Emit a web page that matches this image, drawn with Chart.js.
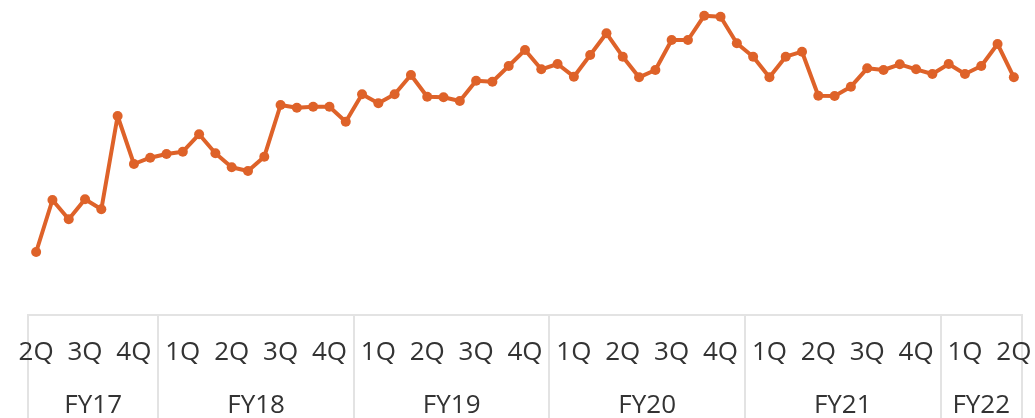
<!DOCTYPE html>
<html>
<head>
<meta charset="utf-8">
<style>
  html, body { margin: 0; padding: 0; background: #ffffff; }
  #wrap { width: 1035px; height: 418px; position: relative; }
</style>
<script src="https://cdn.jsdelivr.net/npm/chart.js@4/dist/chart.umd.min.js"></script>
</head>
<body>
<div id="wrap"><canvas id="c"></canvas></div>
<script>
// ---- data ----
const fiscalYears   = ['FY17', 'FY18', 'FY19', 'FY20', 'FY21', 'FY22'];
const monthsPerYear = [8, 12, 12, 12, 12, 5];
const firstMonth    = [5, 1, 1, 1, 1, 1];
const quarterLabels = ['2Q','3Q','4Q',
                       '1Q','2Q','3Q','4Q',
                       '1Q','2Q','3Q','4Q',
                       '1Q','2Q','3Q','4Q',
                       '1Q','2Q','3Q','4Q',
                       '1Q','2Q'];
const values = [
  63, 115, 95.7, 115.7, 105.7, 199, 151, 157.3,
  161, 163.3, 180.7, 161.7, 147.7, 144, 158.3, 210, 207.3, 208.3, 208.3, 193.3,
  220.7, 211.7, 220.7, 240, 218.3, 217.7, 214, 234.3, 233.3, 249, 265, 245.7,
  251, 238.3, 260, 281.7, 258.3, 237.7, 245, 275, 275, 299.3, 298.3, 271.7,
  258.3, 237.7, 258.3, 263.3, 219.3, 219, 228.3, 246.7, 245, 250.7, 245.7, 241,
  251, 241, 249, 271, 237.7
];

// ---- derived category / tick positions ----
const months = [];
fiscalYears.forEach((fy, k) => {
  for (let m = 0; m < monthsPerYear[k]; m++) months.push(fy + ' M' + (firstMonth[k] + m));
});
const boundaries = [-0.5];
const fyCenters = [];
monthsPerYear.forEach(n => {
  const start = boundaries[boundaries.length - 1];
  fyCenters.push(start + n / 2);
  boundaries.push(start + n);
});
const quarterPos = quarterLabels.map((_, i) => i * 3);
const axisTicks = []
  .concat(boundaries.map(v => ({ value: v, kind: 'sep', text: '' })))
  .concat(quarterPos.map((v, i) => ({ value: v, kind: 'q', text: quarterLabels[i] })))
  .concat(fyCenters.map((v, i) => ({ value: v, kind: 'fy', text: ['', fiscalYears[i]] })))
  .sort((a, b) => a.value - b.value);

const LINE = '#DE6229';
const SEP = '#e3e3e3';
const TXT = '#333333';
const FONT = { family: "'Open Sans', 'Noto Sans', sans-serif", size: 26, lineHeight: 2.06 };
const isSep = ctx => ctx.tick && ctx.tick.kind === 'sep';

new Chart(document.getElementById('c'), {
  type: 'line',
  data: {
    labels: months,
    datasets: [{
      data: values,
      borderColor: LINE,
      backgroundColor: LINE,
      borderWidth: 4,
      pointRadius: 5,
      pointBackgroundColor: LINE,
      pointBorderColor: LINE,
      pointBorderWidth: 0,
      tension: 0,
      borderJoinStyle: 'round',
      borderCapStyle: 'round'
    }]
  },
  options: {
    responsive: true,
    maintainAspectRatio: false,
    animation: false,
    layout: { autoPadding: false, padding: { left: 28, right: 13, top: 0, bottom: 0 } },
    plugins: { legend: { display: false }, tooltip: { enabled: false } },
    scales: {
      x: { type: 'category', display: false, offset: true },
      y: { display: false, min: 0, max: 315 },
      q: {
        type: 'linear', position: 'bottom', min: -0.5, max: 60.5, offset: false,
        afterBuildTicks: s => { s.ticks = axisTicks.map(t => ({ value: t.value, kind: t.kind, text: t.text })); },
        grid: {
          display: true, drawOnChartArea: false, drawTicks: true, tickLength: 231.5,
          lineWidth: 2,
          color: ctx => isSep(ctx) ? SEP : 'rgba(0,0,0,0)',
          tickColor: ctx => isSep(ctx) ? SEP : 'rgba(0,0,0,0)'
        },
        border: { display: true, color: SEP, width: 2 },
        ticks: {
          autoSkip: false, maxRotation: 0, minRotation: 0, mirror: true, padding: -64.25,
          color: TXT, font: FONT,
          callback: (v, i, ticks) => ticks[i].text
        }
      }
    }
  }
});
</script>
</body>
</html>
